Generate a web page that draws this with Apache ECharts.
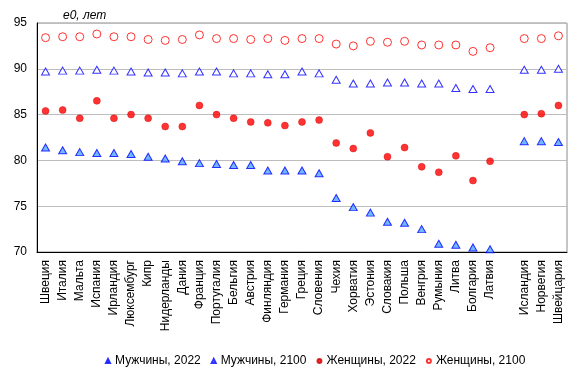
<!DOCTYPE html>
<html>
<head>
<meta charset="utf-8">
<script src="https://cdn.jsdelivr.net/npm/echarts@6/dist/echarts.min.js"></script>
<style>
    html, body { margin: 0; padding: 0; background: #fff; }
    #chart { width: 579px; height: 375px; }
</style>
</head>
<body>
<div id="chart"></div>
<script>
// ======================================数据======================================
var countries = ['Швеция', 'Италия', 'Мальта', 'Испания', 'Ирландия', 'Люксембург', 'Кипр', 'Нидерланды',
    'Дания', 'Франция', 'Португалия', 'Бельгия', 'Австрия', 'Финляндия', 'Германия', 'Греция', 'Словения',
    'Чехия', 'Хорватия', 'Эстония', 'Словакия', 'Польша', 'Венгрия', 'Румыния', 'Литва', 'Болгария', 'Латвия',
    '', 'Исландия', 'Норвегия', 'Швейцария'];

var men2022 = [81.4, 81.1, 80.9, 80.8, 80.8, 80.7, 80.4, 80.2, 79.9, 79.7, 79.6, 79.5, 79.5, 78.9, 78.9, 78.9, 78.6,
    75.9, 74.9, 74.3, 73.3, 73.2, 72.5, 70.9, 70.8, 70.5, 70.3, '-', 82.1, 82.1, 82.0];
var men2100 = [89.7, 89.8, 89.8, 89.9, 89.8, 89.7, 89.6, 89.6, 89.5, 89.7, 89.7, 89.5, 89.5, 89.4, 89.4, 89.7, 89.5,
    88.8, 88.4, 88.4, 88.5, 88.5, 88.4, 88.4, 87.9, 87.8, 87.8, '-', 89.9, 89.9, 90.0];
var women2022 = [85.4, 85.5, 84.6, 86.5, 84.6, 85.0, 84.6, 83.7, 83.7, 86.0, 85.0, 84.6, 84.2, 84.1, 83.8, 84.2, 84.4,
    81.9, 81.3, 83.0, 80.4, 81.4, 79.3, 78.7, 80.5, 77.8, 79.9, '-', 85.0, 85.1, 86.0];
var women2100 = [93.4, 93.5, 93.5, 93.8, 93.5, 93.5, 93.2, 93.1, 93.2, 93.7, 93.3, 93.3, 93.2, 93.3, 93.1, 93.3, 93.3,
    92.7, 92.5, 93.0, 92.9, 93.0, 92.6, 92.6, 92.6, 91.9, 92.3, '-', 93.3, 93.3, 93.6];

var seriesNames = ['Мужчины, 2022', 'Мужчины, 2100', 'Женщины, 2022', 'Женщины, 2100'];
var yTicks = [70, 75, 80, 85, 90, 95];

var fontFamily = '"Liberation Sans", Arial, sans-serif';

// ======================================图表======================================
var chart = echarts.init(document.getElementById('chart'));

var option = {
    backgroundColor: '#fff',
    animation: false,
    textStyle: {
        fontFamily: fontFamily,
        color: '#000'
    },
    title: {
        text: 'e0, лет',
        left: 58,
        top: 5,
        textStyle: {
            fontFamily: fontFamily,
            fontSize: 12,
            fontStyle: 'italic',
            fontWeight: 'normal',
            color: '#000'
        }
    },
    grid: {
        left: 37,
        right: 12,
        top: 23,
        bottom: 123,
        show: true,
        borderColor: '#8c8c8c',
        borderWidth: 1,
        containLabel: false
    },
    legend: {
        data: seriesNames,
        bottom: 3,
        left: 100,
        itemWidth: 4,
        itemHeight: 4,
        itemGap: 10,
        textStyle: {
            fontFamily: fontFamily,
            fontSize: 12,
            color: '#000'
        }
    },
    xAxis: {
        type: 'category',
        data: countries,
        axisLine: {
            lineStyle: {
                color: '#000',
                width: 1
            }
        },
        // 分类中心的竖线（空白分类跳过）
        axisTick: {
            inside: true,
            length: 229,
            alignWithLabel: true,
            interval: function (index, value) {
                return value !== '';
            },
            lineStyle: {
                color: '#bdbdbd',
                width: 1
            }
        },
        axisLabel: {
            interval: 0,
            rotate: 90,
            margin: 8,
            fontSize: 12,
            color: '#000',
            fontFamily: fontFamily
        },
        splitLine: {
            show: false
        }
    },
    yAxis: {
        type: 'value',
        min: yTicks[0],
        max: yTicks[yTicks.length - 1],
        interval: 5,
        axisLine: {
            show: true,
            lineStyle: {
                color: '#000',
                width: 1
            }
        },
        axisTick: {
            show: false
        },
        axisLabel: {
            margin: 10,
            fontSize: 12,
            color: '#000',
            fontFamily: fontFamily
        },
        splitLine: {
            lineStyle: {
                color: '#bdbdbd',
                width: 1
            }
        }
    },
    series: [{
            name: seriesNames[0],
            type: 'scatter',
            data: men2022,
            symbol: 'triangle',
            symbolSize: [8, 7],
            itemStyle: {
                color: '#4da6ff',
                borderColor: '#0000ff',
                borderWidth: 1
            },
            z: 3
        },
        {
            name: seriesNames[1],
            type: 'scatter',
            data: men2100,
            symbol: 'triangle',
            symbolSize: [8, 7],
            itemStyle: {
                color: '#fff',
                borderColor: '#0000ff',
                borderWidth: 1
            },
            z: 3
        },
        {
            name: seriesNames[2],
            type: 'scatter',
            data: women2022,
            symbol: 'circle',
            symbolSize: 7,
            itemStyle: {
                color: '#ff0000',
                borderColor: '#d00000',
                borderWidth: 0.5
            },
            z: 3
        },
        {
            name: seriesNames[3],
            type: 'scatter',
            data: women2100,
            symbol: 'circle',
            symbolSize: 8,
            itemStyle: {
                color: '#fff',
                borderColor: '#ff0000',
                borderWidth: 1
            },
            z: 3
        }
    ]
};

chart.setOption(option);
</script>
</body>
</html>
